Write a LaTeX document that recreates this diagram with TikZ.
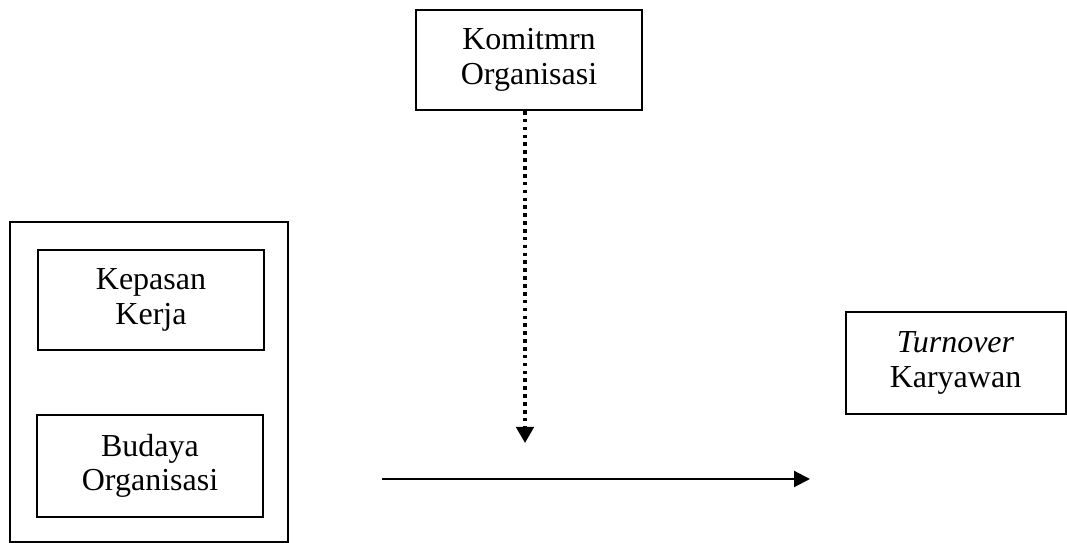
\documentclass[tikz,border=0pt]{standalone}
\usepackage{fontspec}
\setmainfont{Liberation Serif}
\usepackage{tikz}
\usetikzlibrary{arrows.meta}

\tikzset{
  varbox/.style={draw, line width=0.75pt, align=center,
    font=\fontsize{12pt}{13pt}\selectfont, inner sep=0pt},
  solidarrow/.style={line width=0.8pt, -{Triangle[width=6pt,length=6pt]}},
  dotarrow/.style={line width=1.35pt, dash pattern=on 1.35pt off 1.6pt,
    -{Triangle[width=6.5pt,length=6pt]}}
}

\begin{document}
\begin{tikzpicture}[x=0.375pt, y=-0.375pt]
\useasboundingbox (0,0) rectangle (1067,543);

% Moderator
\node[varbox, minimum width=85pt, minimum height=37.5pt] (kom) at (529,60) {Komitmrn\\Organisasi};

% Independent variables
\node[varbox, minimum width=104pt, minimum height=120pt] (grp) at (149,382) {};
\node[varbox, minimum width=85pt, minimum height=37.5pt] (kep) at (151,300) {Kepasan\\Kerja};
\node[varbox, minimum width=85pt, minimum height=38pt] (bud) at (150,466) {Budaya\\Organisasi};

% Dependent variable
\node[varbox, minimum width=82.5pt, minimum height=38pt] (turn) at (955.5,363) {\textit{Turnover}\\Karyawan};

% Arrows
\coordinate (dtip) at (525,443);
\coordinate (sstart) at (382,479);
\coordinate (send) at (810,479);
\draw[dotarrow] (kom.south -| dtip) -- (dtip);
\draw[solidarrow] (sstart) -- (send);
\end{tikzpicture}
\end{document}
